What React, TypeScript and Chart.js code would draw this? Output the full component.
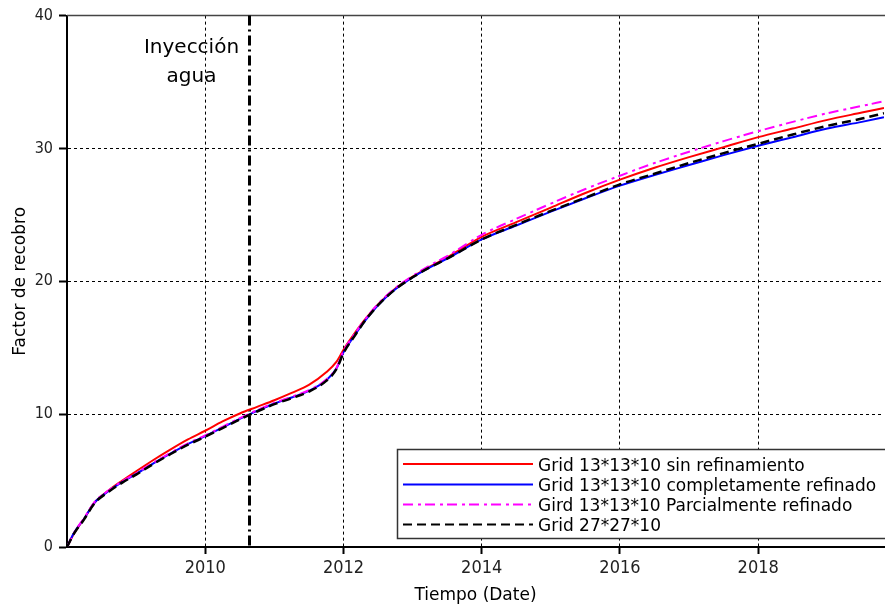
import React, { useEffect, useRef } from 'react';
import { Chart, registerables } from 'chart.js';

Chart.register(...registerables);

// ---- data ----
const years = [
  2008.0, 2008.1, 2008.25, 2008.4, 2008.6, 2008.8, 2009.0, 2009.25, 2009.5, 2009.75,
  2010.0, 2010.25, 2010.5, 2010.75, 2011.0, 2011.25, 2011.5, 2011.75, 2011.9, 2012.0,
  2012.15, 2012.3, 2012.5, 2012.75, 2013.0, 2013.25, 2013.5, 2014.0, 2014.5, 2015.0,
  2015.5, 2016.0, 2016.5, 2017.0, 2017.5, 2018.0, 2018.5, 2019.0, 2019.5, 2019.82,
];

const sinRefinamiento = [
  0, 1.0, 2.15, 3.35, 4.25, 5.0, 5.7, 6.55, 7.35, 8.1,
  8.75, 9.45, 10.05, 10.55, 11.05, 11.6, 12.2, 13.15, 13.95, 14.85,
  16.0, 17.05, 18.25, 19.45, 20.35, 21.1, 21.8, 23.35, 24.45, 25.55,
  26.65, 27.65, 28.55, 29.35, 30.1, 30.85, 31.5, 32.15, 32.7, 33.05,
];

const completamenteRefinado = [
  0, 1.05, 2.15, 3.35, 4.2, 4.9, 5.5, 6.3, 7.05, 7.75,
  8.35, 9.0, 9.65, 10.25, 10.8, 11.25, 11.75, 12.55, 13.45, 14.65,
  15.85, 16.95, 18.2, 19.4, 20.3, 21.05, 21.7, 23.15, 24.2, 25.25,
  26.25, 27.2, 28.0, 28.75, 29.5, 30.2, 30.85, 31.5, 32.0, 32.35,
];

const parcialmenteRefinado = [
  0, 1.05, 2.2, 3.4, 4.25, 4.95, 5.55, 6.35, 7.1, 7.8,
  8.4, 9.05, 9.7, 10.3, 10.85, 11.3, 11.8, 12.6, 13.5, 14.75,
  15.95, 17.05, 18.3, 19.5, 20.4, 21.2, 21.9, 23.5, 24.7, 25.85,
  26.95, 27.95, 28.9, 29.75, 30.55, 31.3, 32.0, 32.65, 33.2, 33.55,
];

const grid27 = [
  0, 1.0, 2.1, 3.3, 4.15, 4.85, 5.45, 6.25, 7.0, 7.7,
  8.3, 8.95, 9.6, 10.2, 10.75, 11.2, 11.7, 12.5, 13.4, 14.6,
  15.8, 16.95, 18.2, 19.4, 20.3, 21.05, 21.7, 23.15, 24.25, 25.3,
  26.3, 27.3, 28.1, 28.9, 29.65, 30.35, 31.05, 31.7, 32.25, 32.65,
];

const seriesLabels = [
  'Grid 13*13*10 sin refinamiento',
  'Grid 13*13*10 completamente refinado',
  'Gird 13*13*10 Parcialmente refinado',
  'Grid 27*27*10',
];

const xTickValues = [2010, 2012, 2014, 2016, 2018];
const xTickLabels = ['2010', '2012', '2014', '2016', '2018'];
const yTickValues = [0, 10, 20, 30, 40];
const yTickLabels = ['0', '10', '20', '30', '40'];

const xMin = 2008.0;
const xMax = 2019.82;
const injectionYear = 2010.63;
const injectionText = ['Inyección', 'agua'];

const TICK_FONT = "'Liberation Sans Narrow', 'DejaVu Sans Condensed', 'Liberation Sans', sans-serif";
const TEXT_FONT = "'DejaVu Sans', 'Liberation Sans', sans-serif";

export default function App() {
  const ref = useRef<HTMLCanvasElement | null>(null);

  useEffect(() => {
    document.body.style.margin = '0';
    const canvas = ref.current;
    if (!canvas) return;

    const mk = (ys: number[]) => years.map((x, i) => ({ x, y: ys[i] }));

    const styles = [
      { color: '#ff0000', width: 2, dash: [] as number[] },
      { color: '#0000ff', width: 2, dash: [] as number[] },
      { color: '#ff00ff', width: 2, dash: [10, 5, 3, 4] },
      { color: '#000000', width: 2.5, dash: [9, 5] },
    ];
    const values = [sinRefinamiento, completamenteRefinado, parcialmenteRefinado, grid27];

    const datasets = values.map((v, i) => ({
      label: seriesLabels[i],
      data: mk(v),
      borderColor: styles[i].color,
      backgroundColor: styles[i].color,
      borderWidth: styles[i].width,
      borderDash: styles[i].dash,
      pointRadius: 0,
      fill: false,
      cubicInterpolationMode: 'monotone' as const,
      order: 4 - i,
    }));

    const overlay = {
      id: 'overlay',
      beforeDatasetsDraw(chart: any) {
        const { ctx, chartArea } = chart;
        const xs = chart.scales.x;
        ctx.save();
        // top border
        ctx.strokeStyle = '#444';
        ctx.lineWidth = 1.5;
        ctx.setLineDash([]);
        ctx.beginPath();
        ctx.moveTo(chartArea.left, chartArea.top);
        ctx.lineTo(chartArea.right + 2, chartArea.top);
        ctx.stroke();

        // injection line
        const px = Math.round(xs.getPixelForValue(injectionYear)) + 0.5;
        ctx.strokeStyle = '#000';
        ctx.lineWidth = 3;
        ctx.setLineDash([10, 4, 2, 4]);
        ctx.beginPath();
        ctx.moveTo(px, chartArea.top);
        ctx.lineTo(px, chartArea.bottom);
        ctx.stroke();
        ctx.setLineDash([]);

        // text
        ctx.fillStyle = '#000';
        ctx.font = `20px ${TEXT_FONT}`;
        ctx.textAlign = 'center';
        ctx.textBaseline = 'alphabetic';
        const cx = px - 58;
        ctx.fillText(injectionText[0], cx, chartArea.top + 37);
        ctx.fillText(injectionText[1], cx, chartArea.top + 66);
        ctx.restore();
      },
      afterDraw(chart: any) {
        const { ctx } = chart;
        ctx.save();
        const bx = 397.5, by = 449.5, bw = 495, bh = 89;
        ctx.fillStyle = '#fff';
        ctx.fillRect(bx, by, bw, bh);
        ctx.strokeStyle = '#333';
        ctx.lineWidth = 1.5;
        ctx.setLineDash([]);
        ctx.strokeRect(bx, by, bw, bh);
        const rows = [464, 484.5, 504.5, 524.5];
        ctx.font = `17px ${TEXT_FONT}`;
        ctx.textAlign = 'left';
        ctx.textBaseline = 'alphabetic';
        rows.forEach((ry, i) => {
          ctx.strokeStyle = styles[i].color;
          ctx.lineWidth = 2;
          ctx.setLineDash(styles[i].dash);
          ctx.beginPath();
          ctx.moveTo(403, ry);
          ctx.lineTo(533, ry);
          ctx.stroke();
          ctx.setLineDash([]);
          ctx.fillStyle = '#000';
          ctx.fillText(seriesLabels[i], 538, ry + 6.5);
        });
        ctx.restore();
      },
    };

    const chart = new Chart(canvas, {
      type: 'line',
      data: { datasets },
      plugins: [overlay],
      options: {
        responsive: false,
        animation: false,
        layout: { padding: { left: 0, right: 1, top: 15, bottom: 0 } },
        plugins: {
          legend: { display: false },
          tooltip: { enabled: false },
        },
        scales: {
          x: {
            type: 'linear',
            min: xMin,
            max: xMax,
            afterBuildTicks: (s: any) => {
              s.ticks = xTickValues.map((v) => ({ value: v }));
            },
            afterFit: (s: any) => {
              s.height = 60;
            },
            grid: {
              color: '#000',
              lineWidth: 1,
              drawTicks: true,
              tickLength: 7,
              tickWidth: 2,
              tickColor: '#000',
            },
            border: { display: true, color: '#000', width: 2, dash: [3, 3] },
            ticks: {
              autoSkip: false,
              maxRotation: 0,
              padding: 4,
              color: '#222',
              font: { family: TICK_FONT, size: 18 },
              callback: (_v: any, i: number) => xTickLabels[i],
            },
            title: {
              display: true,
              text: 'Tiempo (Date)',
              color: '#000',
              font: { family: TEXT_FONT, size: 17 },
              padding: { top: 0, bottom: 1 },
            },
          },
          y: {
            type: 'linear',
            min: 0,
            max: 40,
            afterBuildTicks: (s: any) => {
              s.ticks = yTickValues.map((v) => ({ value: v }));
            },
            afterFit: (s: any) => {
              s.width = 67;
            },
            grid: {
              color: (c: any) =>
                c.tick && (c.tick.value === 0 || c.tick.value === 40) ? 'rgba(0,0,0,0)' : '#000',
              lineWidth: 1,
              drawTicks: true,
              tickLength: 8,
              tickWidth: 2,
              tickColor: '#000',
            },
            border: { display: true, color: '#000', width: 2, dash: [3, 3] },
            ticks: {
              padding: 6,
              color: '#222',
              font: { family: TICK_FONT, size: 16 },
              callback: (_v: any, i: number) => yTickLabels[i],
            },
            title: {
              display: true,
              text: 'Factor de recobro',
              color: '#000',
              font: { family: TEXT_FONT, size: 17 },
              padding: { top: 10, bottom: 0 },
            },
          },
        },
      },
    } as any);

    return () => chart.destroy();
  }, []);

  return (
    <div style={{ width: 885, height: 607 }}>
      <canvas ref={ref} width={885} height={607} style={{ display: 'block' }} />
    </div>
  );
}
